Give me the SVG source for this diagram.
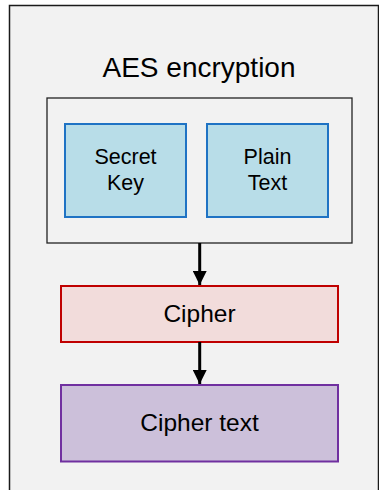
<svg xmlns="http://www.w3.org/2000/svg" width="379" height="490" viewBox="0 0 379 490">
<defs>
<style>
text{font-family:"Liberation Sans",Arial,sans-serif;fill:#000;text-anchor:middle}
.conn line{stroke:#000;stroke-width:3}
</style>
<marker id="ah" markerUnits="userSpaceOnUse" markerWidth="14" markerHeight="14" refX="14" refY="7" orient="auto">
<path d="M0,0 L14,7 L0,14 Z" fill="#000"/>
</marker>
</defs>
<rect x="0" y="0" width="379" height="490" fill="#fff"/>
<g id="frame">
<rect x="9.5" y="5.5" width="369" height="490" fill="#f2f2f2" stroke="#1a1a1a" stroke-width="1.5"/>
<text x="199" y="77" font-size="28">AES encryption</text>
</g>
<g id="aes">
<rect x="47" y="98" width="305" height="145" fill="#f2f2f2" stroke="#222" stroke-width="1.3"/>
</g>
<g id="secret-key">
<rect x="65" y="124" width="121" height="93" fill="#b8dde8" stroke="#1f73c4" stroke-width="2"/>
<text x="125.5" y="164" font-size="21.5">Secret</text>
<text x="125.5" y="190" font-size="21.5">Key</text>
</g>
<g id="plain-text">
<rect x="207" y="124" width="121" height="93" fill="#b8dde8" stroke="#1f73c4" stroke-width="2"/>
<text x="267.5" y="164" font-size="21.5">Plain</text>
<text x="267.5" y="190" font-size="21.5">Text</text>
</g>
<g id="cipher">
<rect x="61" y="286" width="277" height="56" fill="#f2dcdb" stroke="#c00000" stroke-width="2"/>
<text x="199.5" y="322" font-size="24.5">Cipher</text>
</g>
<g id="cipher-text">
<rect x="61" y="385" width="277" height="76.5" fill="#ccc0da" stroke="#7030a0" stroke-width="2"/>
<text x="199.5" y="431" font-size="24.5">Cipher text</text>
</g>
<g class="conn" id="connectors">
<line x1="199.7" y1="243" x2="199.7" y2="285" marker-end="url(#ah)"/>
<line x1="199.7" y1="342" x2="199.7" y2="384" marker-end="url(#ah)"/>
</g>
</svg>
